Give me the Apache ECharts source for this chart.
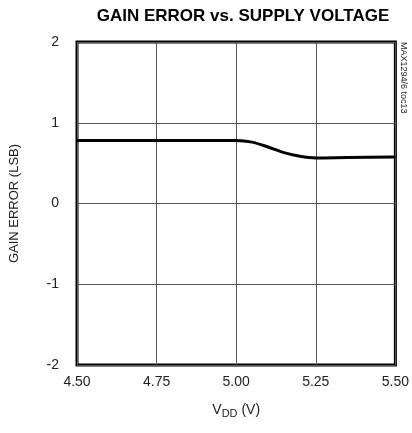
<!DOCTYPE html>
<html><head><meta charset="utf-8">
<script src="https://cdn.jsdelivr.net/npm/echarts@6/dist/echarts.min.js"></script>
<style>html,body{margin:0;padding:0;background:#fff}#c{width:412px;height:433px}</style>
</head><body><div id="c"></div>
<script>
var vdd = [4.50, 4.75, 5.00, 5.05, 5.10, 5.15, 5.20, 5.25, 5.35, 5.50];
var gainError = [0.78, 0.78, 0.78, 0.76, 0.70, 0.63, 0.585, 0.565, 0.57, 0.575];
var titleText = 'GAIN ERROR vs. SUPPLY VOLTAGE';
var yName = 'GAIN ERROR (LSB)';
var sideNote = 'MAX1294/6 toc13';

var chart = echarts.init(document.getElementById('c'), null, {renderer: 'canvas'});
var font = '"Liberation Sans Narrow", "Liberation Sans", Arial, sans-serif';
chart.setOption({
  animation: false,
  backgroundColor: '#fff',
  title: {
    text: titleText, left: 238, top: 3, textAlign: 'center',
    textStyle: {fontFamily: font, fontWeight: 'bold', fontSize: 17, color: '#000'}
  },
  grid: {left: 76, right: 12, top: 42, bottom: 68, show: true, borderColor: '#000', borderWidth: 3, backgroundColor: 'transparent'},
  xAxis: {
    type: 'value', min: 4.5, max: 5.5, interval: 0.25,
    axisLine: {show: false}, axisTick: {show: false},
    splitLine: {show: true, lineStyle: {color: '#555', width: 1}},
    axisLabel: {margin: 10, fontFamily: font, fontSize: 14, color: '#222', formatter: function(v){return v.toFixed(2);}},
    name: 'V{sub|DD} (V)', nameLocation: 'middle', nameGap: 37,
    nameTextStyle: {fontFamily: font, fontSize: 14, color: '#222',
      rich: {sub: {fontFamily: font, fontSize: 11, color: '#222', verticalAlign: 'bottom', padding: [6,0,0,0]}}}
  },
  yAxis: {
    type: 'value', min: -2, max: 2, interval: 1,
    axisLine: {show: false}, axisTick: {show: false},
    splitLine: {show: true, lineStyle: {color: '#555', width: 1}},
    axisLabel: {margin: 18, fontFamily: font, fontSize: 14, color: '#222'},
    name: yName, nameLocation: 'middle', nameGap: 56, nameRotate: 90,
    nameTextStyle: {fontFamily: font, fontSize: 13, color: '#222'}
  },
  graphic: [{
    type: 'text', x: 403, y: 42, rotation: -Math.PI/2,
    style: {text: sideNote, fontFamily: font, fontSize: 9, fill: '#222', textAlign: 'left', textVerticalAlign: 'middle'}
  }],
  series: [{
    type: 'line', data: vdd.map(function(x,i){return [x, gainError[i]];}),
    smooth: 0.3, showSymbol: false, lineStyle: {color: '#000', width: 3}
  }]
});
</script></body></html>
